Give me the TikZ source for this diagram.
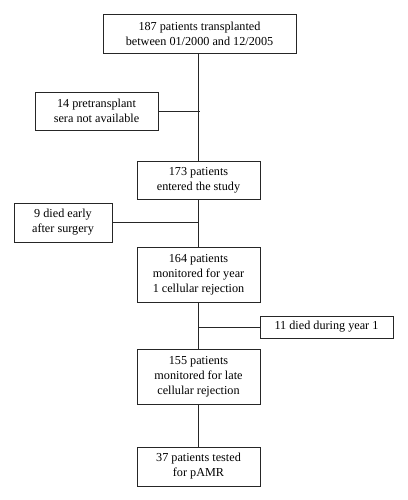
\documentclass[tikz,border=0pt]{standalone}
\usepackage{fontspec}
\setmainfont{Liberation Serif}
\usepackage{tikz}
\usetikzlibrary{positioning}

\begin{document}
\begin{tikzpicture}[x=1pt, y=-1pt, line width=0.8pt, every node/.style={draw=black!85, rectangle, align=center, inner sep=1pt, font=\fontsize{12.2}{15}\selectfont}, wide/.style={minimum width=123pt}]
	\useasboundingbox (0,0) rectangle (407,500);
	\node[minimum width=193pt, minimum height=39pt](start) at (199.5,33.5){187 patients transplanted\\between 01/2000 and 12/2005};
	\node[wide, minimum height=38pt](nosera) at (96.5,111){14 pretransplant\\sera not available};
	\node[wide, minimum height=38pt](entered) at (198.5,180){173 patients\\entered the study};
	\node[minimum width=98pt, minimum height=39pt](early) at (63,222.5){9 died early\\after surgery};
	\node[wide, minimum height=55pt](yearone) at (198.5,274.5){164 patients\\monitored for year\\1 cellular rejection};
	\node[minimum width=133pt, minimum height=22pt](diedone) at (326.5,327){11 died during year 1};
	\node[wide, minimum height=55pt](late) at (198.5,376.5){155 patients\\monitored for late\\cellular rejection};
	\node[wide, minimum height=39pt](pamr) at (198.5,466.5){37 patients tested\\for pAMR};
	\coordinate (j1) at (start.south |- nosera.east);
	\coordinate (j2) at (entered.south |- early.east);
	\coordinate (j3) at (yearone.south |- diedone.west);
	\draw[black!85] (start.south) -- (entered.north |- start.south) -- (entered.north);
	\draw[black!85] (nosera.east) -- (j1);
	\draw[black!85] (entered.south) -- (yearone.north);
	\draw[black!85] (early.east) -- (j2);
	\draw[black!85] (yearone.south) -- (late.north);
	\draw[black!85] (diedone.west) -- (j3);
	\draw[black!85] (late.south) -- (pamr.north);
\end{tikzpicture}
\end{document}
